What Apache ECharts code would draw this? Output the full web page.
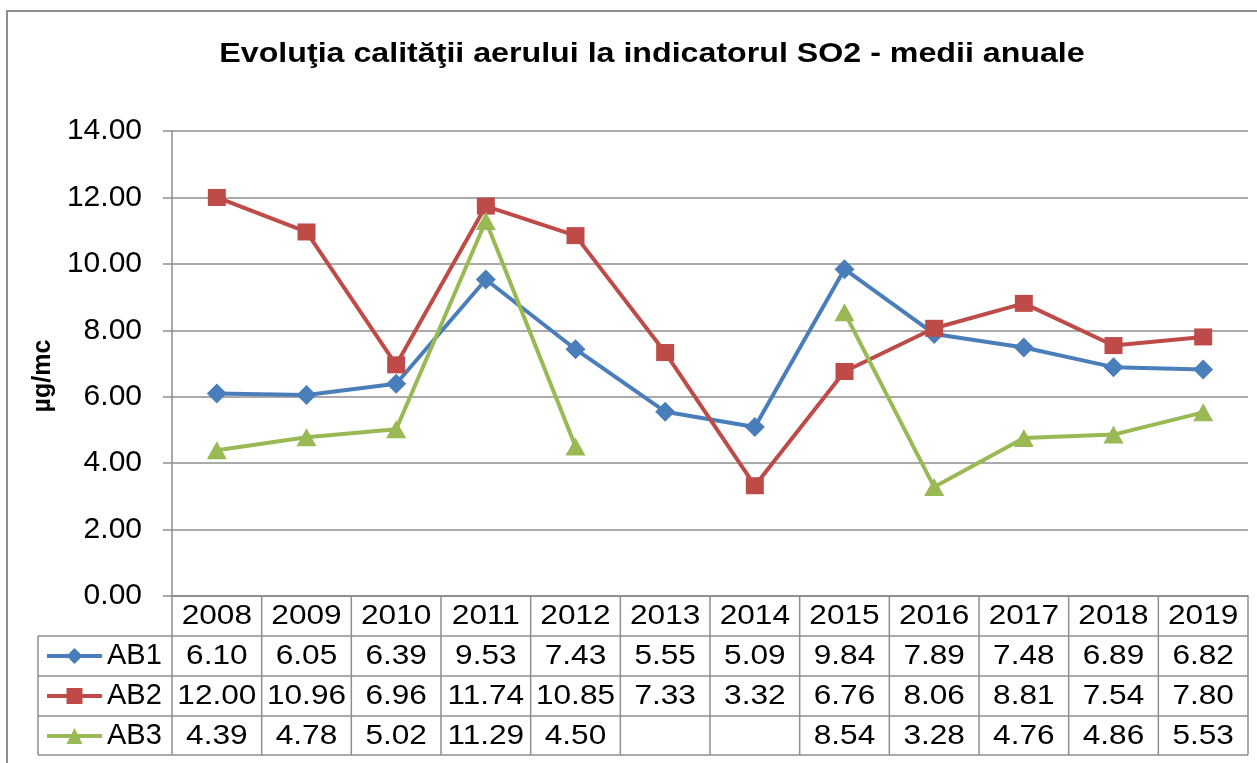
<!DOCTYPE html>
<html>
<head>
<meta charset="utf-8">
<script src="https://cdn.jsdelivr.net/npm/echarts@6/dist/echarts.min.js"></script>
<style>
  html, body { margin: 0; padding: 0; background: #fff; }
  .frame {
    position: absolute;
    left: 6px;
    top: 10px;
    width: 1300px;
    height: 800px;
    border-left: 2px solid #8e8e8e;
    border-top: 2px solid #8e8e8e;
  }
  #chart { position: absolute; left: 0; top: 0; width: 1257px; height: 763px; }
</style>
</head>
<body>
<div class="frame"></div>
<div id="chart"></div>
<script>
// date
const years = ["2008", "2009", "2010", "2011", "2012", "2013", "2014", "2015", "2016", "2017", "2018", "2019"]
const ab1 = [6.10, 6.05, 6.39, 9.53, 7.43, 5.55, 5.09, 9.84, 7.89, 7.48, 6.89, 6.82]
const ab2 = [12.00, 10.96, 6.96, 11.74, 10.85, 7.33, 3.32, 6.76, 8.06, 8.81, 7.54, 7.80]
const ab3 = [4.39, 4.78, 5.02, 11.29, 4.50, null, null, 8.54, 3.28, 4.76, 4.86, 5.53]
const seriesNames = ["AB1", "AB2", "AB3"]
const yTicks = [0, 2, 4, 6, 8, 10, 12, 14]

const FONT = '"Liberation Sans", Arial, sans-serif'
const GRID_COLOR = "#8e8e8e"
const colors = ["#4a7ebb", "#be4b48", "#98b954"]
// imaginea originala e putin intinsa pe orizontala
const STRETCH = 1.17

const myChart = echarts.init(document.getElementById("chart"))

const option = {
  animation: false,
  legend: {
    orient: "vertical",
    left: 45,
    top: 641,
    padding: 0,
    itemWidth: 55,
    itemHeight: 20,
    itemGap: 10,
    lineStyle: { width: 4 },
    textStyle: { fontFamily: FONT, fontSize: 29, color: "#000", lineHeight: 30 },
    data: seriesNames
  },
  grid: {
    left: 172,
    right: 9,
    top: 131,
    bottom: 167
  },
  xAxis: {
    type: "category",
    data: years,
    axisLine: { lineStyle: { color: GRID_COLOR, width: 1.5 } },
    axisTick: { show: false },
    axisLabel: { show: false }
  },
  yAxis: {
    type: "value",
    min: yTicks[0],
    max: yTicks[yTicks.length - 1],
    interval: 2,
    axisLine: { show: true, lineStyle: { color: GRID_COLOR, width: 1.5 } },
    axisTick: { show: true, length: 9, lineStyle: { color: GRID_COLOR, width: 1.5 } },
    splitLine: { lineStyle: { color: GRID_COLOR, width: 1.5 } },
    axisLabel: {
      margin: 30,
      fontFamily: FONT,
      fontSize: 30,
      color: "#000",
      formatter: (v) => v.toFixed(2)
    }
  },
  series: [
    {
      name: seriesNames[0],
      type: "line",
      data: ab1,
      symbol: "diamond",
      symbolSize: 20,
      lineStyle: { width: 4, color: colors[0] },
      itemStyle: { color: colors[0] }
    },
    {
      name: seriesNames[1],
      type: "line",
      data: ab2,
      symbol: "rect",
      symbolSize: [18, 17],
      lineStyle: { width: 4, color: colors[1] },
      itemStyle: { color: colors[1] }
    },
    {
      name: seriesNames[2],
      type: "line",
      data: ab3,
      symbol: "triangle",
      symbolSize: [20, 18],
      connectNulls: false,
      lineStyle: { width: 4, color: colors[2] },
      itemStyle: { color: colors[2] }
    }
  ]
}

myChart.setOption(option)

// tabelul de date de sub grafic
const rows = [ab1, ab2, ab3]
const headerTop = 596
const rowTop = [636, 676, 716]
const tableBottom = 755
const tableLeft = 38

function buildGraphics() {
  const g = []
  const first = myChart.convertToPixel({ xAxisIndex: 0 }, years[0])
  const second = myChart.convertToPixel({ xAxisIndex: 0 }, years[1])
  const band = second - first
  const left = first - band / 2
  const right = left + band * years.length
  const line = (x1, y1, x2, y2) => ({
    type: "line",
    shape: { x1, y1, x2, y2 },
    style: { stroke: GRID_COLOR, lineWidth: 1.5 },
    silent: true
  })
  const text = (t, x, y) => ({
    type: "text",
    x,
    y,
    scaleX: STRETCH,
    style: { text: t, align: "center", verticalAlign: "middle", font: "27px " + FONT, fill: "#000" },
    silent: true
  })

  // titlu
  g.push({
    type: "text",
    x: 652,
    y: 54,
    scaleX: STRETCH,
    style: {
      text: "Evoluţia calităţii aerului la indicatorul SO2 - medii anuale",
      align: "center",
      verticalAlign: "middle",
      font: "bold 27.5px " + FONT,
      fill: "#000"
    },
    silent: true
  })
  // unitatea de masura
  g.push({
    type: "text",
    x: 43,
    y: 376,
    rotation: Math.PI / 2,
    style: {
      text: "µg/mc",
      align: "center",
      verticalAlign: "middle",
      font: "bold 25px " + FONT,
      fill: "#000"
    },
    silent: true
  })

  // linii orizontale
  g.push(line(left, headerTop, right, headerTop))
  rowTop.forEach((y) => g.push(line(tableLeft, y, right, y)))
  g.push(line(tableLeft, tableBottom, right, tableBottom))
  // linii verticale
  g.push(line(tableLeft, rowTop[0], tableLeft, tableBottom))
  for (let i = 0; i <= years.length; i++) {
    const x = left + band * i
    g.push(line(x, headerTop, x, tableBottom))
  }

  years.forEach((yr, i) => {
    const cx = myChart.convertToPixel({ xAxisIndex: 0 }, yr)
    g.push(text(yr, cx, (headerTop + rowTop[0]) / 2 + 1))
    rows.forEach((vals, r) => {
      const v = vals[i]
      if (v === null) return
      const yBottom = r < rowTop.length - 1 ? rowTop[r + 1] : tableBottom
      g.push(text(v.toFixed(2), cx, (rowTop[r] + yBottom) / 2 + 1))
    })
  })
  myChart.setOption({ graphic: g })
}

buildGraphics()
</script>
</body>
</html>
